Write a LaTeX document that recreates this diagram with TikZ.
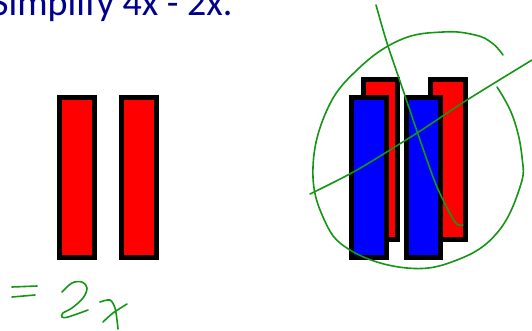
\documentclass[tikz,border=0pt]{standalone}
\usepackage{fontspec}
\setmainfont{Carlito}
\usepackage{tikz}
\definecolor{titleColor}{RGB}{0, 0, 140}
\definecolor{inkColor}{RGB}{20, 150, 20}
\definecolor{barRed}{RGB}{255, 0, 0}
\definecolor{barBlue}{RGB}{0, 0, 255}

\begin{document}
\begin{tikzpicture}[x=1pt, y=-1pt,
    bar/.style={draw=black, line width=5pt},
    ink/.style={inkColor, line width=1.6pt, line cap=round, line join=round}]
  \useasboundingbox (0,0) rectangle (532,331);

  % Title (cut at the top edge)
  \node[text=titleColor, anchor=base west, inner sep=0pt, font=\fontsize{38}{44}\selectfont] (title) at (-9,16) {Simplify 4x - 2x.};

  % Left: the two red bars that remain (2x)
  \draw[bar, fill=barRed] (59.5,97.5) rectangle (94.5,257.5);
  \draw[bar, fill=barRed] (121.5,97.5) rectangle (156.5,257.5);

  % Right: red bars behind, blue bars in front
  \draw[bar, fill=barRed] (363.5,79.5) rectangle (397.5,239.5);
  \draw[bar, fill=barRed] (430.5,79.5) rectangle (465.5,239.5);
  \draw[bar, fill=barBlue] (351.5,97.5) rectangle (386.5,257.5);
  \draw[bar, fill=barBlue] (406.5,97.5) rectangle (440.5,257.5);

  % Handwritten loop round the pairs
  \draw[ink] plot[smooth, tension=0.7] coordinates {
    (497,87) (513,117) (522,157) (520,187) (497,233) (457,260) (407,268)
    (350,250) (323,217) (313,167) (327,110) (357,70) (400,40) (443,32)
    (475,35) (492,43) (503,55)
  };

  % Two crossing strokes
  \draw[ink] plot[smooth] coordinates {(310,194) (357,170) (417,133) (467,100) (532,60)};
  \draw[ink] plot[smooth] coordinates {(376,5) (387,43) (403,90) (420,140) (437,187) (455,222) (463,225)};

  % Handwritten "= 2x"
  \draw[ink] (12,287) -- (37,286);
  \draw[ink] (12,297) -- (35,295);
  \draw[ink] plot[smooth, tension=0.6] coordinates {
    (62,292) (72,283) (82,282) (87,288) (83,298) (72,308) (63,313) (62,317) (68,317) (88,310)
  };
  \draw[ink] plot[smooth] coordinates {(100,302) (110,300) (115,308) (117,320) (118,329)};
  \draw[ink] plot[smooth] coordinates {(103,322) (113,313) (127,304)};
\end{tikzpicture}
\end{document}
